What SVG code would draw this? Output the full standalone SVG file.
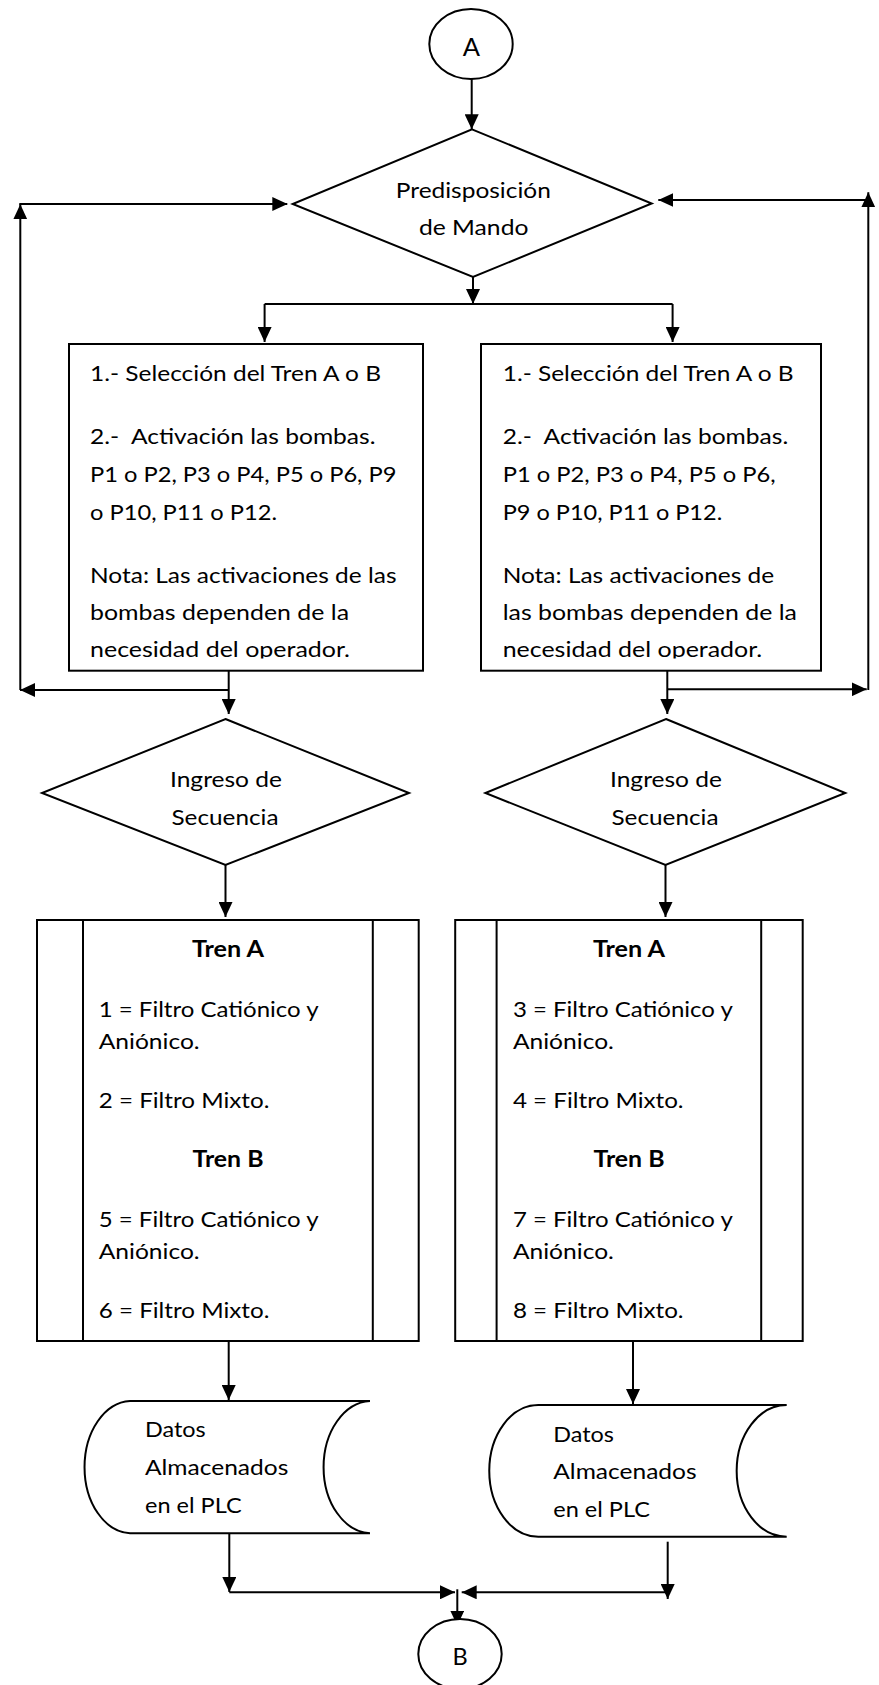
<svg xmlns="http://www.w3.org/2000/svg" width="879" height="1685" viewBox="0 0 879 1685">
<style>
.s{fill:#fff;stroke:#000;stroke-width:2}
.c{fill:none;stroke:#000;stroke-width:2}
.t{font-family:Lato,"Liberation Sans",sans-serif;font-size:22px;fill:#000}
.b{font-weight:bold}
.m{text-anchor:middle}
</style>
<defs>
<marker id="ah" viewBox="0 0 15 14" refX="15" refY="7" markerWidth="15" markerHeight="14" markerUnits="userSpaceOnUse" orient="auto"><path d="M0,0 L15,7 L0,14 z" fill="#000"/></marker>
<clipPath id="clipL"><rect x="69" y="344" width="354" height="314.5"/></clipPath>
<clipPath id="clipR"><rect x="481" y="344" width="340" height="314.5"/></clipPath>
</defs>
<rect width="879" height="1685" fill="#fff"/>

<g id="connectors" class="c" marker-end="url(#ah)">
<path d="M471.7,79 V129.3"/>
<path d="M473,268.3 V304"/>
<path d="M264.6,304 H672.6" marker-end="none"/>
<path d="M264.6,304 V342"/>
<path d="M672.6,304 V342"/>
<path d="M228.7,670.7 V714"/>
<path d="M228.7,690 H20"/>
<path d="M20.3,690 V204.3"/>
<path d="M19.3,204 H287.3"/>
<path d="M667.3,670.7 V714"/>
<path d="M667.3,689.3 H866.7"/>
<path d="M868.3,690 V192.3"/>
<path d="M868.3,200 H658.3"/>
<path d="M225.5,865 V917"/>
<path d="M665.5,865 V917"/>
<path d="M228.7,1341 V1400"/>
<path d="M633,1341 V1404"/>
<path d="M229.3,1533.3 V1592"/>
<path d="M229.3,1592.3 H455"/>
<path d="M667.7,1541.7 V1599"/>
<path d="M667.7,1592.3 H461.7"/>
<path d="M457.3,1589.3 V1625.7"/>
</g>

<g id="startA">
<ellipse class="s" cx="471" cy="44" rx="41.7" ry="35"/>
<text class="t m" x="471.5" y="56" style="font-size:25.5px">A</text>
</g>

<g id="predisposicion">
<polygon class="s" points="472,129.3 651.7,203.5 473,277 292.7,204"/>
<text class="t m" x="473.3" y="198.3" textLength="155" lengthAdjust="spacingAndGlyphs">Predisposición</text>
<text class="t m" x="473.7" y="235" textLength="109.5" lengthAdjust="spacingAndGlyphs">de Mando</text>
</g>

<g id="boxLeft">
<rect class="s" x="69" y="344" width="354" height="326.7"/>
<g clip-path="url(#clipL)">
<text class="t" x="90" y="380.7" textLength="291" lengthAdjust="spacingAndGlyphs">1.- Selección del Tren A o B</text>
<text class="t" x="90" y="444" textLength="285.5" lengthAdjust="spacingAndGlyphs">2.-&#160; Activación las bombas.</text>
<text class="t" x="90" y="482.3" textLength="306.5" lengthAdjust="spacingAndGlyphs">P1 o P2, P3 o P4, P5 o P6, P9</text>
<text class="t" x="90" y="519.5" textLength="187" lengthAdjust="spacingAndGlyphs">o P10, P11 o P12.</text>
<text class="t" x="90" y="583.3" textLength="306.5" lengthAdjust="spacingAndGlyphs">Nota: Las activaciones de las</text>
<text class="t" x="90" y="620.3" textLength="259" lengthAdjust="spacingAndGlyphs">bombas dependen de la</text>
<text class="t" x="90" y="657.3" textLength="260" lengthAdjust="spacingAndGlyphs">necesidad del operador.</text>
</g>
</g>

<g id="boxRight">
<rect class="s" x="481" y="344" width="340" height="326.7"/>
<g clip-path="url(#clipR)">
<text class="t" x="502.7" y="380.7" textLength="291" lengthAdjust="spacingAndGlyphs">1.- Selección del Tren A o B</text>
<text class="t" x="502.7" y="444" textLength="285.5" lengthAdjust="spacingAndGlyphs">2.-&#160; Activación las bombas.</text>
<text class="t" x="502.7" y="482.3" textLength="273" lengthAdjust="spacingAndGlyphs">P1 o P2, P3 o P4, P5 o P6,</text>
<text class="t" x="502.7" y="519.5" textLength="219.5" lengthAdjust="spacingAndGlyphs">P9 o P10, P11 o P12.</text>
<text class="t" x="502.7" y="583.3" textLength="271.5" lengthAdjust="spacingAndGlyphs">Nota: Las activaciones de</text>
<text class="t" x="502.7" y="620.3" textLength="294.2" lengthAdjust="spacingAndGlyphs">las bombas dependen de la</text>
<text class="t" x="502.7" y="657.3" textLength="259.5" lengthAdjust="spacingAndGlyphs">necesidad del operador.</text>
</g>
</g>

<g id="ingresoLeft">
<polygon class="s" points="225.5,719 409,793 225.5,865 42,793"/>
<text class="t m" x="226" y="787.3" textLength="112" lengthAdjust="spacingAndGlyphs">Ingreso de</text>
<text class="t m" x="225" y="825" textLength="107" lengthAdjust="spacingAndGlyphs">Secuencia</text>
</g>

<g id="ingresoRight">
<polygon class="s" points="666,719 845.3,793 665.5,865 485.4,793"/>
<text class="t m" x="666" y="787.3" textLength="112" lengthAdjust="spacingAndGlyphs">Ingreso de</text>
<text class="t m" x="665" y="825" textLength="107" lengthAdjust="spacingAndGlyphs">Secuencia</text>
</g>

<g id="procLeft">
<rect class="s" x="37" y="920" width="381.7" height="421"/>
<path class="c" d="M83,920 V1341 M372.8,920 V1341"/>
<text class="t b m" x="228" y="956.7" textLength="72" lengthAdjust="spacingAndGlyphs">Tren A</text>
<text class="t" x="98.7" y="1016.7" textLength="220" lengthAdjust="spacingAndGlyphs">1 = Filtro Catiónico y</text>
<text class="t" x="98.7" y="1049" textLength="101" lengthAdjust="spacingAndGlyphs">Aniónico.</text>
<text class="t" x="98.7" y="1108.3" textLength="170.7" lengthAdjust="spacingAndGlyphs">2 = Filtro Mixto.</text>
<text class="t b m" x="228" y="1167" textLength="71" lengthAdjust="spacingAndGlyphs">Tren B</text>
<text class="t" x="98.7" y="1227" textLength="220" lengthAdjust="spacingAndGlyphs">5 = Filtro Catiónico y</text>
<text class="t" x="98.7" y="1258.7" textLength="101" lengthAdjust="spacingAndGlyphs">Aniónico.</text>
<text class="t" x="98.7" y="1318.3" textLength="170.7" lengthAdjust="spacingAndGlyphs">6 = Filtro Mixto.</text>
</g>

<g id="procRight">
<rect class="s" x="455.2" y="920" width="347.5" height="421"/>
<path class="c" d="M496.6,920 V1341 M761.2,920 V1341"/>
<text class="t b m" x="629" y="956.7" textLength="72" lengthAdjust="spacingAndGlyphs">Tren A</text>
<text class="t" x="512.9" y="1016.7" textLength="220" lengthAdjust="spacingAndGlyphs">3 = Filtro Catiónico y</text>
<text class="t" x="512.9" y="1049" textLength="101" lengthAdjust="spacingAndGlyphs">Aniónico.</text>
<text class="t" x="512.9" y="1108.3" textLength="170.7" lengthAdjust="spacingAndGlyphs">4 = Filtro Mixto.</text>
<text class="t b m" x="629" y="1167" textLength="71" lengthAdjust="spacingAndGlyphs">Tren B</text>
<text class="t" x="512.9" y="1227" textLength="220" lengthAdjust="spacingAndGlyphs">7 = Filtro Catiónico y</text>
<text class="t" x="512.9" y="1258.7" textLength="101" lengthAdjust="spacingAndGlyphs">Aniónico.</text>
<text class="t" x="512.9" y="1318.3" textLength="170.7" lengthAdjust="spacingAndGlyphs">8 = Filtro Mixto.</text>
</g>

<g id="datosLeft">
<path class="s" d="M130,1401 L370,1401 A48.3,66.2 0 0 0 370,1533.3 L130,1533.3 A47.3,66.2 0 0 1 130,1401 Z"/>
<text class="t" x="145" y="1437.3" textLength="60.7" lengthAdjust="spacingAndGlyphs">Datos</text>
<text class="t" x="145" y="1475" textLength="143.3" lengthAdjust="spacingAndGlyphs">Almacenados</text>
<text class="t" x="145" y="1512.7" textLength="96.7" lengthAdjust="spacingAndGlyphs">en el PLC</text>
</g>

<g id="datosRight">
<path class="s" d="M538.3,1405 L786.7,1405 A50,65.8 0 0 0 786.7,1536.7 L538.3,1536.7 A49,65.8 0 0 1 538.3,1405 Z"/>
<text class="t" x="553.3" y="1441.7" textLength="60.7" lengthAdjust="spacingAndGlyphs">Datos</text>
<text class="t" x="553.3" y="1479" textLength="143.3" lengthAdjust="spacingAndGlyphs">Almacenados</text>
<text class="t" x="553.3" y="1516.7" textLength="96.7" lengthAdjust="spacingAndGlyphs">en el PLC</text>
</g>

<g id="endB">
<ellipse class="s" cx="460" cy="1654" rx="41.7" ry="35"/>
<text class="t m" x="460" y="1664.5" style="font-size:23.5px">B</text>
</g>
</svg>
